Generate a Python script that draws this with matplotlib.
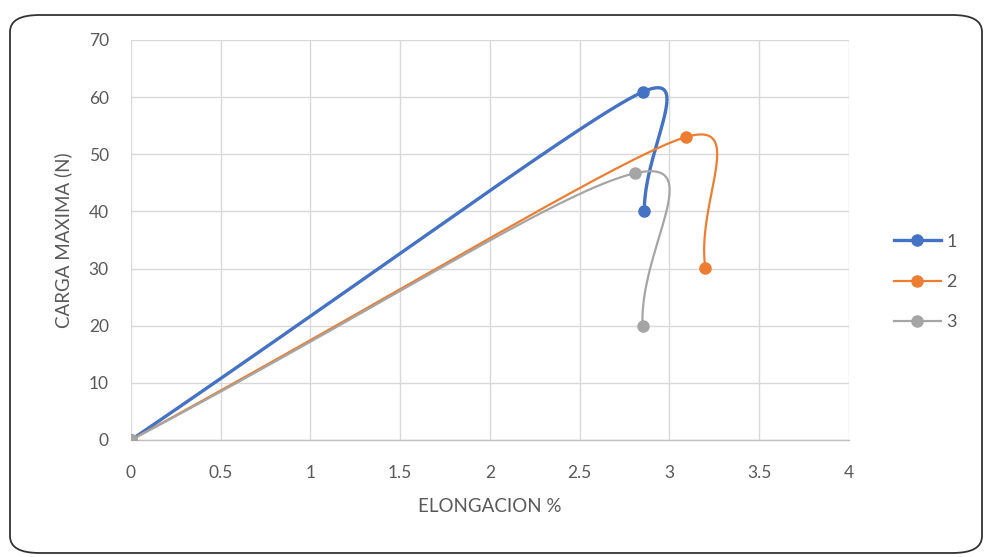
import numpy as np
import matplotlib.pyplot as plt
from matplotlib.patches import FancyBboxPatch

# data
elong_1 = [0, 2.85, 2.86]
carga_1 = [0, 60.9, 40.1]
elong_2 = [0, 3.09, 3.20]
carga_2 = [0, 53.0, 30.1]
elong_3 = [0, 2.81, 2.85]
carga_3 = [0, 46.7, 20.0]
series_names = ['1', '2', '3']
x_ticks = [0, 0.5, 1, 1.5, 2, 2.5, 3, 3.5, 4]
x_labels = ['0', '0.5', '1', '1.5', '2', '2.5', '3', '3.5', '4']
y_ticks = [0, 10, 20, 30, 40, 50, 60, 70]

colors = ['#4472C4', '#ED7D31', '#A5A5A5']
widths = [2.4, 1.6, 1.6]

plt.rcParams['font.family'] = ['Lato', 'DejaVu Sans']

fig = plt.figure(figsize=(9.87, 5.57), dpi=100)
ax = fig.add_axes([131 / 987, 1 - 440 / 557, 718 / 987, 400 / 557])
ax.set_xlim(0, 4)
ax.set_ylim(0, 70)


def smooth(ax, xs, ys, k=0.5, n=80):
    # excel-like bezier smoothing, done in screen space
    pts = ax.transData.transform(np.column_stack([xs, ys]))
    m = len(pts)
    lens = [np.linalg.norm(pts[i + 1] - pts[i]) for i in range(m - 1)]
    tang = []
    for i in range(m):
        if i == 0:
            d = pts[1] - pts[0]
        elif i == m - 1:
            d = pts[-1] - pts[-2]
        else:
            d = pts[i + 1] - pts[i - 1]
        tang.append(d / np.linalg.norm(d))
    out = []
    t = np.linspace(0, 1, n)[:, None]
    for i in range(m - 1):
        p0, p3 = pts[i], pts[i + 1]
        L = lens[i]
        # limit handle length by the shorter neighbouring segment
        l0 = min(L, lens[i - 1]) if i > 0 else L
        l1 = min(L, lens[i + 1]) if i + 1 < m - 1 else L
        p1 = p0 + tang[i] * l0 * k
        p2 = p3 - tang[i + 1] * l1 * k
        seg = ((1 - t) ** 3) * p0 + 3 * ((1 - t) ** 2) * t * p1 \
            + 3 * (1 - t) * t ** 2 * p2 + t ** 3 * p3
        out.append(seg)
    out = np.vstack(out)
    return ax.transData.inverted().transform(out)


data = [(elong_1, carga_1), (elong_2, carga_2), (elong_3, carga_3)]
for (xs, ys), c, lw, name in zip(data, colors, widths, series_names):
    curve = smooth(ax, xs, ys)
    ax.plot(curve[:, 0], curve[:, 1], color=c, linewidth=lw, zorder=3,
            solid_capstyle='round')
    ax.plot(xs, ys, linestyle='none', marker='o', markersize=8,
            color=c, zorder=4)
    ax.plot([], [], color=c, linewidth=lw, marker='o', markersize=8,
            label=name)

ax.set_xticks(x_ticks)
ax.set_xticklabels(x_labels)
ax.set_yticks(y_ticks)
ax.grid(color='#D9D9D9', linewidth=1, zorder=0)
ax.set_axisbelow(True)
for s in ['left', 'right', 'top']:
    ax.spines[s].set_visible(False)
ax.spines['bottom'].set_color('#BFBFBF')
ax.spines['bottom'].set_linewidth(1)
ax.tick_params(axis='both', length=0, labelsize=12.5, labelcolor='#595959')
ax.tick_params(axis='x', pad=18)
ax.tick_params(axis='y', pad=16)
ax.set_xlabel('ELONGACION %', fontsize=13.5, color='#595959', labelpad=12)
ax.set_ylabel('CARGA MAXIMA (N)', fontsize=13.5, color='#595959', labelpad=12)

leg = ax.legend(loc='center left', bbox_to_anchor=(1.04, 0.395), frameon=False,
                fontsize=13, labelcolor='#595959', handlelength=2.6,
                handletextpad=0.3, labelspacing=1.35)

border = FancyBboxPatch((10 / 987, 4 / 557), 972 / 987, 538 / 557,
                        boxstyle='round,pad=0,rounding_size=0.03',
                        transform=fig.transFigure, facecolor='none',
                        edgecolor='#333333', linewidth=1.3)
fig.patches.append(border)

fig.savefig('out.png', dpi=100)
